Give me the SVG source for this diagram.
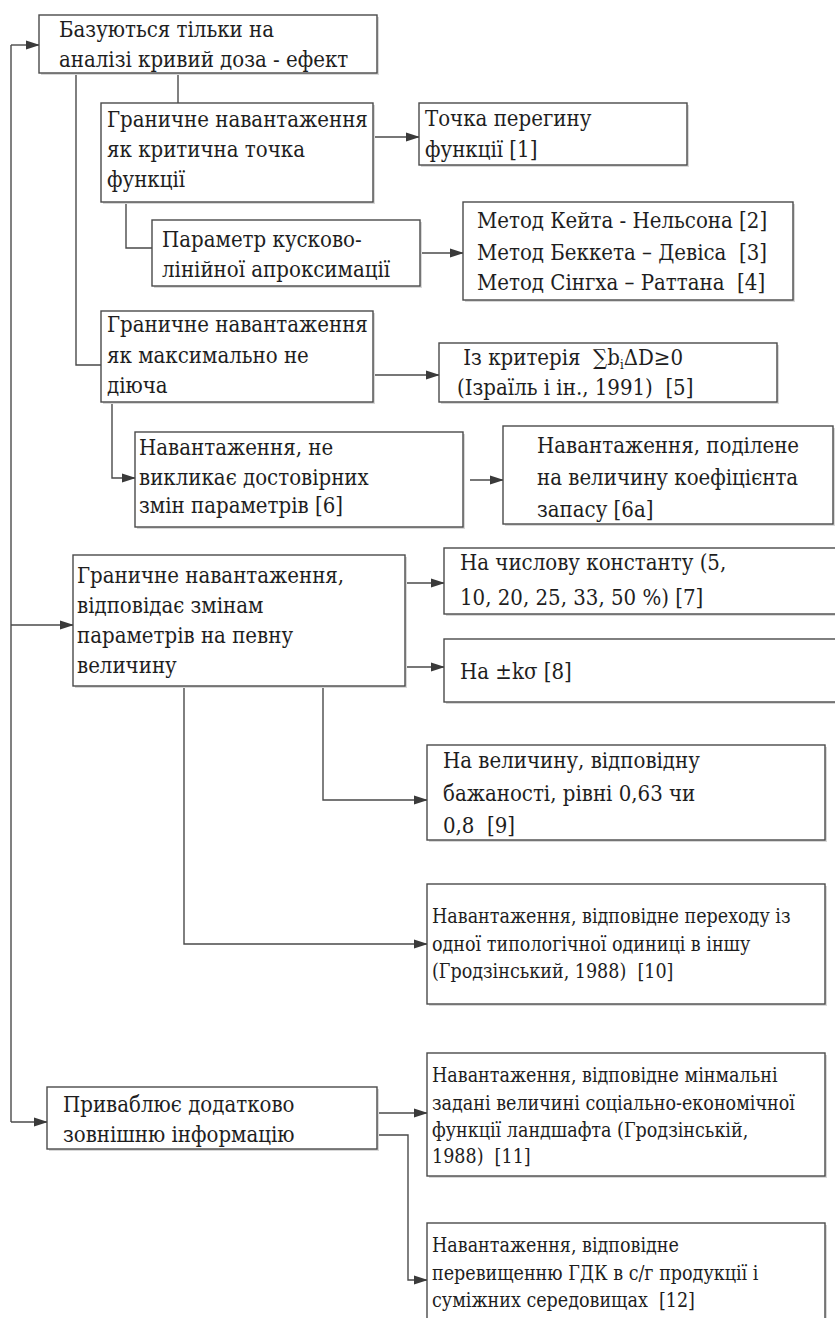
<svg xmlns="http://www.w3.org/2000/svg" width="835" height="1318" viewBox="0 0 835 1318">
<defs>
<marker id="arr" markerWidth="14" markerHeight="10" refX="13" refY="5" orient="auto" markerUnits="userSpaceOnUse">
<path d="M0,0.5 L14,5 L0,9.5 Z" fill="#3a3a3a"/>
</marker>
</defs>
<style>
.box{fill:#fff;stroke:#4a4a4a;stroke-width:1.4}
.sh{fill:#d8d8d8;stroke:none}
.t{font-family:"DejaVu Serif","Liberation Serif",serif;font-stretch:condensed;font-size:22px;fill:#1e1e1e;white-space:pre}
.s{font-family:"DejaVu Serif","Liberation Serif",serif;font-stretch:condensed;font-size:19.5px;fill:#1e1e1e;white-space:pre}
.c{fill:none;stroke:#4a4a4a;stroke-width:1.4}
.ca{fill:none;stroke:#4a4a4a;stroke-width:1.4;marker-end:url(#arr)}
</style>
<rect width="835" height="1318" fill="#fff"/>

<g id="connectors">
<path class="c" d="M11,1122 V45"/>
<path class="ca" d="M11,45 H39"/>
<path class="ca" d="M11,625 H73"/>
<path class="ca" d="M11,1122 H47"/>
<path class="c" d="M178,73 V103"/>
<path class="c" d="M76,73 V365 H101"/>
<path class="ca" d="M373,137 H419"/>
<path class="c" d="M126,202 V248 H152"/>
<path class="ca" d="M420,253 H463"/>
<path class="ca" d="M373,375 H439"/>
<path class="ca" d="M112,402 V478 H135"/>
<path class="ca" d="M470,480 H503"/>
<path class="ca" d="M405,583 H444"/>
<path class="ca" d="M405,667 H444"/>
<path class="ca" d="M323,686 V800 H427"/>
<path class="ca" d="M184,686 V944 H427"/>
<path class="ca" d="M377,1113 H427"/>
<path class="ca" d="M377,1135 H408 V1280 H427"/>
</g>

<g id="n1">
<rect class="sh" x="41" y="17" width="338" height="58"/>
<rect class="box" x="39" y="15" width="338" height="58"/>
<text class="t"><tspan x="59" y="37">Базуються тільки на</tspan><tspan x="59" y="67">аналізі кривий доза - ефект</tspan></text>
</g>

<g id="n2">
<rect class="sh" x="103" y="105" width="272" height="99"/>
<rect class="box" x="101" y="103" width="272" height="99"/>
<text class="t"><tspan x="107" y="127">Граничне навантаження</tspan><tspan x="107" y="157">як критична точка</tspan><tspan x="107" y="187">функції</tspan></text>
</g>

<g id="n3">
<rect class="sh" x="421" y="105" width="268" height="62"/>
<rect class="box" x="419" y="103" width="268" height="62"/>
<text class="t"><tspan x="425" y="126">Точка перегину</tspan><tspan x="425" y="157">функції [1]</tspan></text>
</g>

<g id="n4">
<rect class="sh" x="154" y="222" width="268" height="66"/>
<rect class="box" x="152" y="220" width="268" height="66"/>
<text class="t"><tspan x="162" y="247">Параметр кусково-</tspan><tspan x="162" y="277">лінійної апроксимації</tspan></text>
</g>

<g id="n5">
<rect class="sh" x="465" y="204" width="330" height="98"/>
<rect class="box" x="463" y="202" width="330" height="98"/>
<text class="t"><tspan x="477" y="228">Метод Кейта - Нельсона [2]</tspan><tspan x="477" y="260">Метод Беккета – Девіса  [3]</tspan><tspan x="477" y="290">Метод Сінгха – Раттана  [4]</tspan></text>
</g>

<g id="n6">
<rect class="sh" x="103" y="313" width="272" height="91"/>
<rect class="box" x="101" y="311" width="272" height="91"/>
<text class="t"><tspan x="107" y="332">Граничне навантаження</tspan><tspan x="107" y="363">як максимально не</tspan><tspan x="107" y="393">діюча</tspan></text>
</g>

<g id="n7">
<rect class="sh" x="441" y="345" width="338" height="59"/>
<rect class="box" x="439" y="343" width="338" height="59"/>
<text class="t"><tspan x="457" y="365"> Із критерія  ∑b</tspan><tspan font-size="13" dy="4">i</tspan><tspan dy="-4">ΔD≥0</tspan><tspan x="457" y="395">(Ізраїль і ін., 1991)  [5]</tspan></text>
</g>

<g id="n8">
<rect class="sh" x="137" y="434" width="328" height="95"/>
<rect class="box" x="135" y="432" width="328" height="95"/>
<text class="t"><tspan x="139" y="455">Навантаження, не</tspan><tspan x="139" y="485">викликає достовірних</tspan><tspan x="139" y="513">змін параметрів [6]</tspan></text>
</g>

<g id="n9">
<rect class="sh" x="505" y="428" width="330" height="98"/>
<rect class="box" x="503" y="426" width="330" height="98"/>
<text class="t"><tspan x="537" y="453">Навантаження, поділене</tspan><tspan x="537" y="485">на величину коефіцієнта</tspan><tspan x="537" y="517">запасу [6а]</tspan></text>
</g>

<g id="n10">
<rect class="sh" x="75" y="557" width="332" height="131"/>
<rect class="box" x="73" y="555" width="332" height="131"/>
<text class="t"><tspan x="77" y="583">Граничне навантаження,</tspan><tspan x="77" y="613">відповідає змінам</tspan><tspan x="77" y="643">параметрів на певну</tspan><tspan x="77" y="673">величину</tspan></text>
</g>

<g id="n11">
<rect class="sh" x="446" y="550" width="400" height="66"/>
<rect class="box" x="444" y="548" width="400" height="66"/>
<text class="t"><tspan x="460" y="570">На числову константу (5,</tspan><tspan x="460" y="605">10, 20, 25, 33, 50 %) [7]</tspan></text>
</g>

<g id="n12">
<rect class="sh" x="446" y="641" width="400" height="63"/>
<rect class="box" x="444" y="639" width="400" height="63"/>
<text class="t"><tspan x="460" y="679">На ±kσ [8]</tspan></text>
</g>

<g id="n13">
<rect class="sh" x="429" y="747" width="398" height="95"/>
<rect class="box" x="427" y="745" width="398" height="95"/>
<text class="t"><tspan x="443" y="768">На величину, відповідну</tspan><tspan x="443" y="801">бажаності, рівні 0,63 чи</tspan><tspan x="443" y="833">0,8  [9]</tspan></text>
</g>

<g id="n14">
<rect class="sh" x="429" y="886" width="398" height="120"/>
<rect class="box" x="427" y="884" width="398" height="120"/>
<text class="s"><tspan x="432" y="923">Навантаження, відповідне переходу із</tspan><tspan x="432" y="951">одної типологічної одиниці в іншу</tspan><tspan x="432" y="978">(Гродзінський, 1988)  [10]</tspan></text>
</g>

<g id="n15">
<rect class="sh" x="49" y="1089" width="330" height="62"/>
<rect class="box" x="47" y="1087" width="330" height="62"/>
<text class="t"><tspan x="63" y="1112">Приваблює додатково</tspan><tspan x="63" y="1142">зовнішню інформацію</tspan></text>
</g>

<g id="n16">
<rect class="sh" x="429" y="1055" width="398" height="123"/>
<rect class="box" x="427" y="1053" width="398" height="123"/>
<text class="s"><tspan x="432" y="1082">Навантаження, відповідне мінмальні</tspan><tspan x="432" y="1110">задані величині соціально-економічної</tspan><tspan x="432" y="1137">функції ландшафта (Гродзінській,</tspan><tspan x="432" y="1163">1988)  [11]</tspan></text>
</g>

<g id="n17">
<rect class="sh" x="429" y="1225" width="398" height="110"/>
<rect class="box" x="427" y="1223" width="398" height="110"/>
<text class="s"><tspan x="432" y="1252">Навантаження, відповідне</tspan><tspan x="432" y="1280">перевищенню ГДК в с/г продукції і</tspan><tspan x="432" y="1307">суміжних середовищах  [12]</tspan></text>
</g>
</svg>
